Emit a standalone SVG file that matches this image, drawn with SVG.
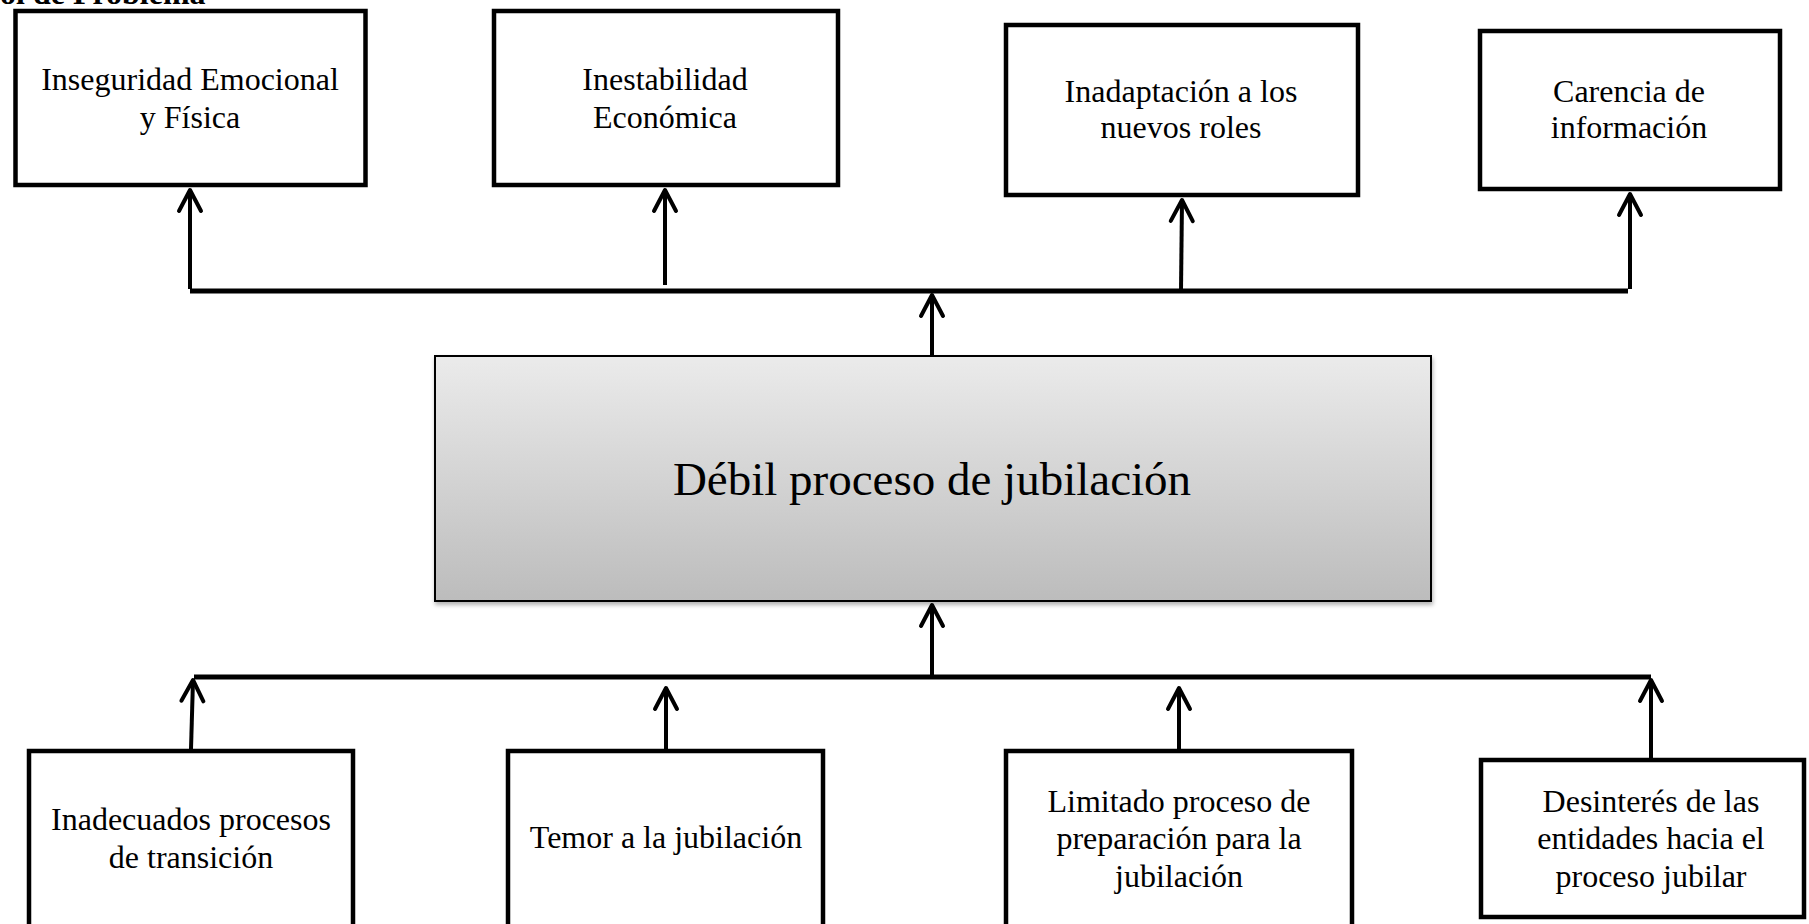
<svg xmlns="http://www.w3.org/2000/svg" width="1809" height="924" viewBox="0 0 1809 924">
<style>
.box{fill:#ffffff;stroke:#000000;stroke-width:4.5}
.main{stroke:#000000;stroke-width:2}
.t{font-family:"Liberation Serif","Times New Roman",serif;font-size:32px;fill:#000000;text-anchor:middle}
.mt{font-family:"Liberation Serif","Times New Roman",serif;font-size:47px;fill:#000000;text-anchor:middle}
.title{font-family:"Liberation Serif","Times New Roman",serif;font-size:32px;font-weight:bold;fill:#000000}
.bar{stroke:#000000;stroke-width:5;fill:none}
.arr{stroke:#000000;stroke-width:4;fill:none;marker-end:url(#ah)}
</style>
<defs>
<linearGradient id="g" x1="0" y1="0" x2="0" y2="1">
<stop offset="0" stop-color="#ebebeb"/>
<stop offset="1" stop-color="#bcbcbc"/>
</linearGradient>
<filter id="sh" x="-5%" y="-5%" width="110%" height="115%">
<feDropShadow dx="1" dy="3" stdDeviation="2" flood-color="#000000" flood-opacity="0.3"/>
</filter>
<marker id="ah" viewBox="-26 -15 30 30" refX="0" refY="0" markerWidth="30" markerHeight="30" markerUnits="userSpaceOnUse" orient="auto">
<path d="M -21 -11 L 0 0 L -21 11" fill="none" stroke="#000000" stroke-width="4" stroke-linejoin="round" stroke-linecap="round"/>
</marker>
</defs>
<rect width="1809" height="924" fill="#ffffff"/>
<text class="title" x="0" y="4">ol de Problema</text>

<g id="connectors">
<line class="bar" x1="190" y1="291" x2="1628" y2="291"/>
<line class="arr" x1="190" y1="289" x2="190" y2="190"/>
<line class="arr" x1="665" y1="285" x2="665" y2="190"/>
<line class="arr" x1="1181" y1="291" x2="1182" y2="200"/>
<line class="arr" x1="1630" y1="289" x2="1630" y2="194"/>
<line class="arr" x1="932" y1="355" x2="932" y2="295"/>
<line class="arr" x1="932" y1="677" x2="932" y2="605"/>
<line class="bar" x1="194" y1="677" x2="1651" y2="677"/>
<line class="arr" x1="191" y1="749" x2="193" y2="680"/>
<line class="arr" x1="666" y1="749" x2="666" y2="688"/>
<line class="arr" x1="1179" y1="749" x2="1179" y2="688"/>
<line class="arr" x1="1651" y1="758" x2="1651" y2="680"/>
</g>

<g id="n-inseguridad">
<rect class="box" x="15.5" y="11" width="350" height="174"/>
<text class="t" x="190" y="90">Inseguridad Emocional</text>
<text class="t" x="190" y="128">y Física</text>
</g>
<g id="n-inestabilidad">
<rect class="box" x="494" y="11" width="344" height="174"/>
<text class="t" x="665" y="90">Inestabilidad</text>
<text class="t" x="665" y="128">Económica</text>
</g>
<g id="n-inadaptacion">
<rect class="box" x="1006" y="25" width="352" height="170"/>
<text class="t" x="1181" y="102">Inadaptación a los</text>
<text class="t" x="1181" y="138">nuevos roles</text>
</g>
<g id="n-carencia">
<rect class="box" x="1480" y="31" width="300" height="158"/>
<text class="t" x="1629" y="102">Carencia de</text>
<text class="t" x="1629" y="138">información</text>
</g>

<g id="n-main">
<rect class="main" x="435" y="356" width="996" height="245" fill="url(#g)" filter="url(#sh)"/>
<text class="mt" x="932" y="495">Débil proceso de jubilación</text>
</g>

<g id="n-inadecuados">
<rect class="box" x="29" y="751" width="324" height="200"/>
<text class="t" x="191" y="830">Inadecuados procesos</text>
<text class="t" x="191" y="868">de transición</text>
</g>
<g id="n-temor">
<rect class="box" x="508" y="751" width="315" height="200"/>
<text class="t" x="666" y="848">Temor a la jubilación</text>
</g>
<g id="n-limitado">
<rect class="box" x="1006" y="751" width="346" height="200"/>
<text class="t" x="1179" y="812">Limitado proceso de</text>
<text class="t" x="1179" y="849">preparación para la</text>
<text class="t" x="1179" y="887">jubilación</text>
</g>
<g id="n-desinteres">
<rect class="box" x="1481" y="760" width="323" height="157"/>
<text class="t" x="1651" y="812">Desinterés de las</text>
<text class="t" x="1651" y="849">entidades hacia el</text>
<text class="t" x="1651" y="887">proceso jubilar</text>
</g>
</svg>
